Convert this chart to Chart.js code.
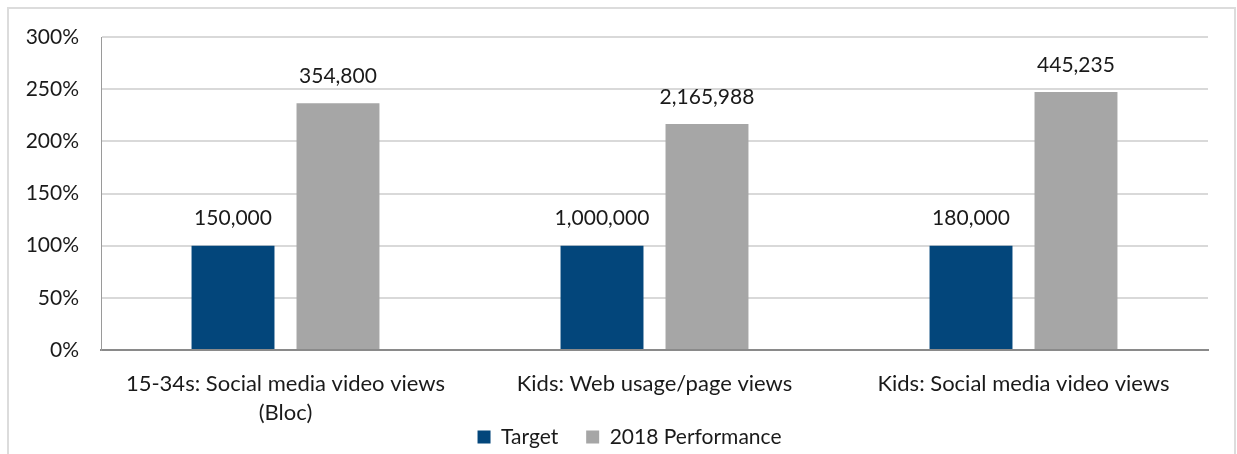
<!DOCTYPE html>
<html>
<head>
  <title>Targets vs 2018 performance</title>
  <script src="https://cdn.jsdelivr.net/npm/chart.js"></script>
  <style>
    html, body { margin: 0; padding: 0; overflow: hidden; background: #fff; }
    #frame {
      position: absolute; left: 7px; top: 7px; width: 1229px; height: 500px;
      border: 2px solid #dcdcdc; box-sizing: border-box;
    }
    #wrap { position: absolute; left: 0; top: 0; width: 1237px; height: 489px; }
  </style>
</head>
<body>
  <div id="frame"></div>
  <div id="wrap">
    <canvas id="myChart" width="1237" height="489"></canvas>
  </div>

  <script>
    const categories = [
      ['15-34s: Social media video views', '(Bloc)'],
      ['Kids: Web usage/page views'],
      ['Kids: Social media video views']
    ];
    const seriesNames = ['Target', '2018 Performance'];
    // percent of target
    const targetPct = [100, 100, 100];
    const performancePct = [236.5, 216.6, 247.4];
    // labels shown above the bars
    const targetCounts = ['150,000', '1,000,000', '180,000'];
    const performanceCounts = ['354,800', '2,165,988', '445,235'];
    const yMax = 300;
    const yStep = 50;

    const FONT = 'Lato, "Open Sans", sans-serif';
    const TEXT = '#1a1a1a';

    // draws the counts above each bar
    const barLabels = {
      id: 'barLabels',
      afterDatasetsDraw(chart) {
        const ctx = chart.ctx;
        const counts = [targetCounts, performanceCounts];
        ctx.save();
        ctx.font = '21px ' + FONT;
        ctx.fillStyle = TEXT;
        ctx.textAlign = 'center';
        ctx.textBaseline = 'middle';
        chart.data.datasets.forEach((ds, i) => {
          chart.getDatasetMeta(i).data.forEach((bar, j) => {
            ctx.fillText(counts[i][j], bar.x, bar.y - 27);
          });
        });
        ctx.restore();
      }
    };

    // pull the legend up under the axis labels and centre it like the original
    const legendPlace = {
      id: 'legendPlace',
      afterLayout(chart) {
        const lg = chart.legend;
        lg.top -= 31.5; lg.bottom -= 31.5;
        lg.left += 25.5; lg.right += 25.5;
      }
    };

    const ctx = document.getElementById('myChart').getContext('2d');
    const myChart = new Chart(ctx, {
      type: 'bar',
      data: {
        labels: categories,
        datasets: [
          {
            label: seriesNames[0],
            data: targetPct,
            backgroundColor: '#03467b',
            categoryPercentage: 0.569,
            barPercentage: 0.79
          }, {
            label: seriesNames[1],
            data: performancePct,
            backgroundColor: '#a6a6a6',
            categoryPercentage: 0.569,
            barPercentage: 0.79
          }
        ]
      },
      options: {
        responsive: false,
        animation: false,
        layout: { padding: { left: 0, right: 29, top: 37, bottom: 0 } },
        plugins: {
          tooltip: { enabled: false },
          legend: {
            position: 'bottom',
            labels: {
              boxWidth: 13,
              boxHeight: 13,
              padding: 28,
              color: TEXT,
              font: { family: FONT, size: 21 }
            }
          }
        },
        scales: {
          x: {
            grid: { display: false, drawTicks: false },
            border: { display: true, color: '#8a8a8a', width: 2 },
            ticks: {
              color: TEXT,
              padding: 19,
              maxRotation: 0,
              autoSkip: false,
              font: { family: FONT, size: 22, lineHeight: 1.32 }
            },
            afterFit(scale) { scale.height = 80; }
          },
          y: {
            min: 0,
            max: yMax,
            grid: { color: '#d9d9d9', lineWidth: 2, drawTicks: false },
            border: { display: true, color: '#9a9a9a', width: 1 },
            ticks: {
              stepSize: yStep,
              color: TEXT,
              padding: 22,
              font: { family: FONT, size: 21 },
              callback: (v) => v + '%'
            },
            afterFit(scale) { scale.width = 101; }
          }
        }
      },
      plugins: [barLabels, legendPlace]
    });
  </script>
</body>
</html>
